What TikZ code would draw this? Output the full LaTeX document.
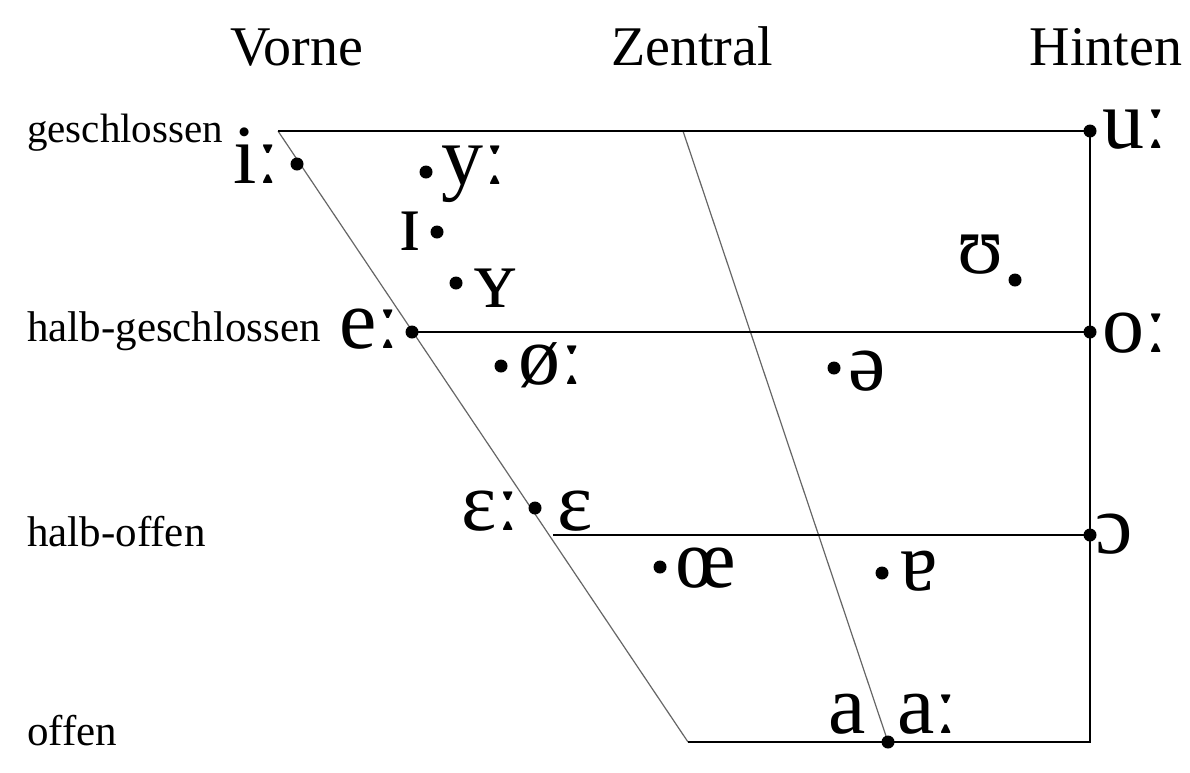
\documentclass[tikz,border=0pt]{standalone}
\usepackage{fontspec}
\setmainfont{Liberation Serif}
\begin{document}
\begin{tikzpicture}[x=1pt,y=-1pt,
  gridline/.style={line width=2.6pt,black},
  slantline/.style={line width=1.2pt,black!60},
  vdot/.style={circle,fill=black,inner sep=0pt,minimum size=13pt},
  ipa/.style={inner sep=0pt,font=\fontsize{84}{84}\selectfont},
  rowlab/.style={inner sep=0pt,anchor=base west,font=\fontsize{43}{43}\selectfont},
  colhead/.style={inner sep=0pt,anchor=base,font=\fontsize{56}{56}\selectfont}]
\useasboundingbox (0,0) rectangle (1190,772);
\fill[white] (0,0) rectangle (1190,772);

% frame coordinates
\coordinate (TL) at (278,131);
\coordinate (TR) at (1090,131);
\coordinate (BL) at (688,742);
\coordinate (BR) at (1090,742);
\coordinate (CT) at (683,131);
\coordinate (CB) at (888,742);
\coordinate (HGL) at (412,332);
\coordinate (HGR) at (1090,332);
\coordinate (HOL) at (553,535);
\coordinate (HOR) at (1090,535);

% lines
\draw[slantline] (TL) -- (BL);
\draw[slantline] (CT) -- (CB);
\draw[gridline] (TL) -- (TR) -- (BR) -- (BL);
\draw[gridline] (HGL) -- (HGR);
\draw[gridline] (HOL) -- (HOR);

% headings
\node[colhead] (vorne) at (297,65) {Vorne};
\node[colhead] (zentral) at (692,65) {Zentral};
\node[colhead] (hinten) at (1106,65) {Hinten};

% row labels
\node[rowlab,font=\fontsize{41}{41}\selectfont] (rg) at (27,142) {geschlossen};
\node[rowlab] (rhg) at (27,341) {halb-geschlossen};
\node[rowlab] (rho) at (27,546) {halb-offen};
\node[rowlab] (ro) at (27,745) {offen};

% dots
\node[vdot] (di) at (297,164) {};
\node[vdot] (dy) at (426,172) {};
\node[vdot] (dI) at (437,232) {};
\node[vdot] (dY) at (456,283) {};
\node[vdot] (de) at (HGL) {};
\node[vdot] (doe) at (501,366) {};
\node[vdot] (dschwa) at (834,368) {};
\node[vdot] (dU) at (1015,280) {};
\node[vdot] (du) at (TR) {};
\node[vdot] (do) at (HGR) {};
\node[vdot] (dO) at (HOR) {};
\node[vdot] (dE) at (535,508) {};
\node[vdot] (dOE) at (660,567) {};
\node[vdot] (dA) at (882,573) {};
\node[vdot] (da) at (CB) {};

% vowel symbols
\node[ipa,anchor=base east] (li) at (280,183) {iː};
\node[ipa,anchor=base west] (ly) at (441,184) {yː};
\node[ipa,anchor=base east] (lI) at (422,250) {ɪ};
\node[ipa,anchor=base west] (lY) at (474,307) {ʏ};
\node[ipa,anchor=base east] (le) at (400,348) {eː};
\node[ipa,anchor=base west] (loe) at (518,384) {øː};
\node[ipa,anchor=base west] (lschwa) at (848,390) {ə};
\node[ipa,anchor=base east] (lU) at (1004,273) {ʊ};
\node[ipa,anchor=base west] (lu) at (1102,148) {uː};
\node[ipa,anchor=base west] (lo) at (1102,352) {oː};
\node[ipa,anchor=base west] (lO) at (1095,553) {ɔ};
\node[ipa,anchor=base east] (lEE) at (520,530) {ɛː};
\node[ipa,anchor=base west] (lE) at (557,530) {ɛ};
\node[ipa,anchor=base west] (lOE) at (675,587) {œ};
\node[ipa,anchor=base west] (lA) at (900,590) {ɐ};
\node[ipa,anchor=base east] (la) at (866,733) {a};
\node[ipa,anchor=base west] (laa) at (897,733) {aː};
\end{tikzpicture}
\end{document}
